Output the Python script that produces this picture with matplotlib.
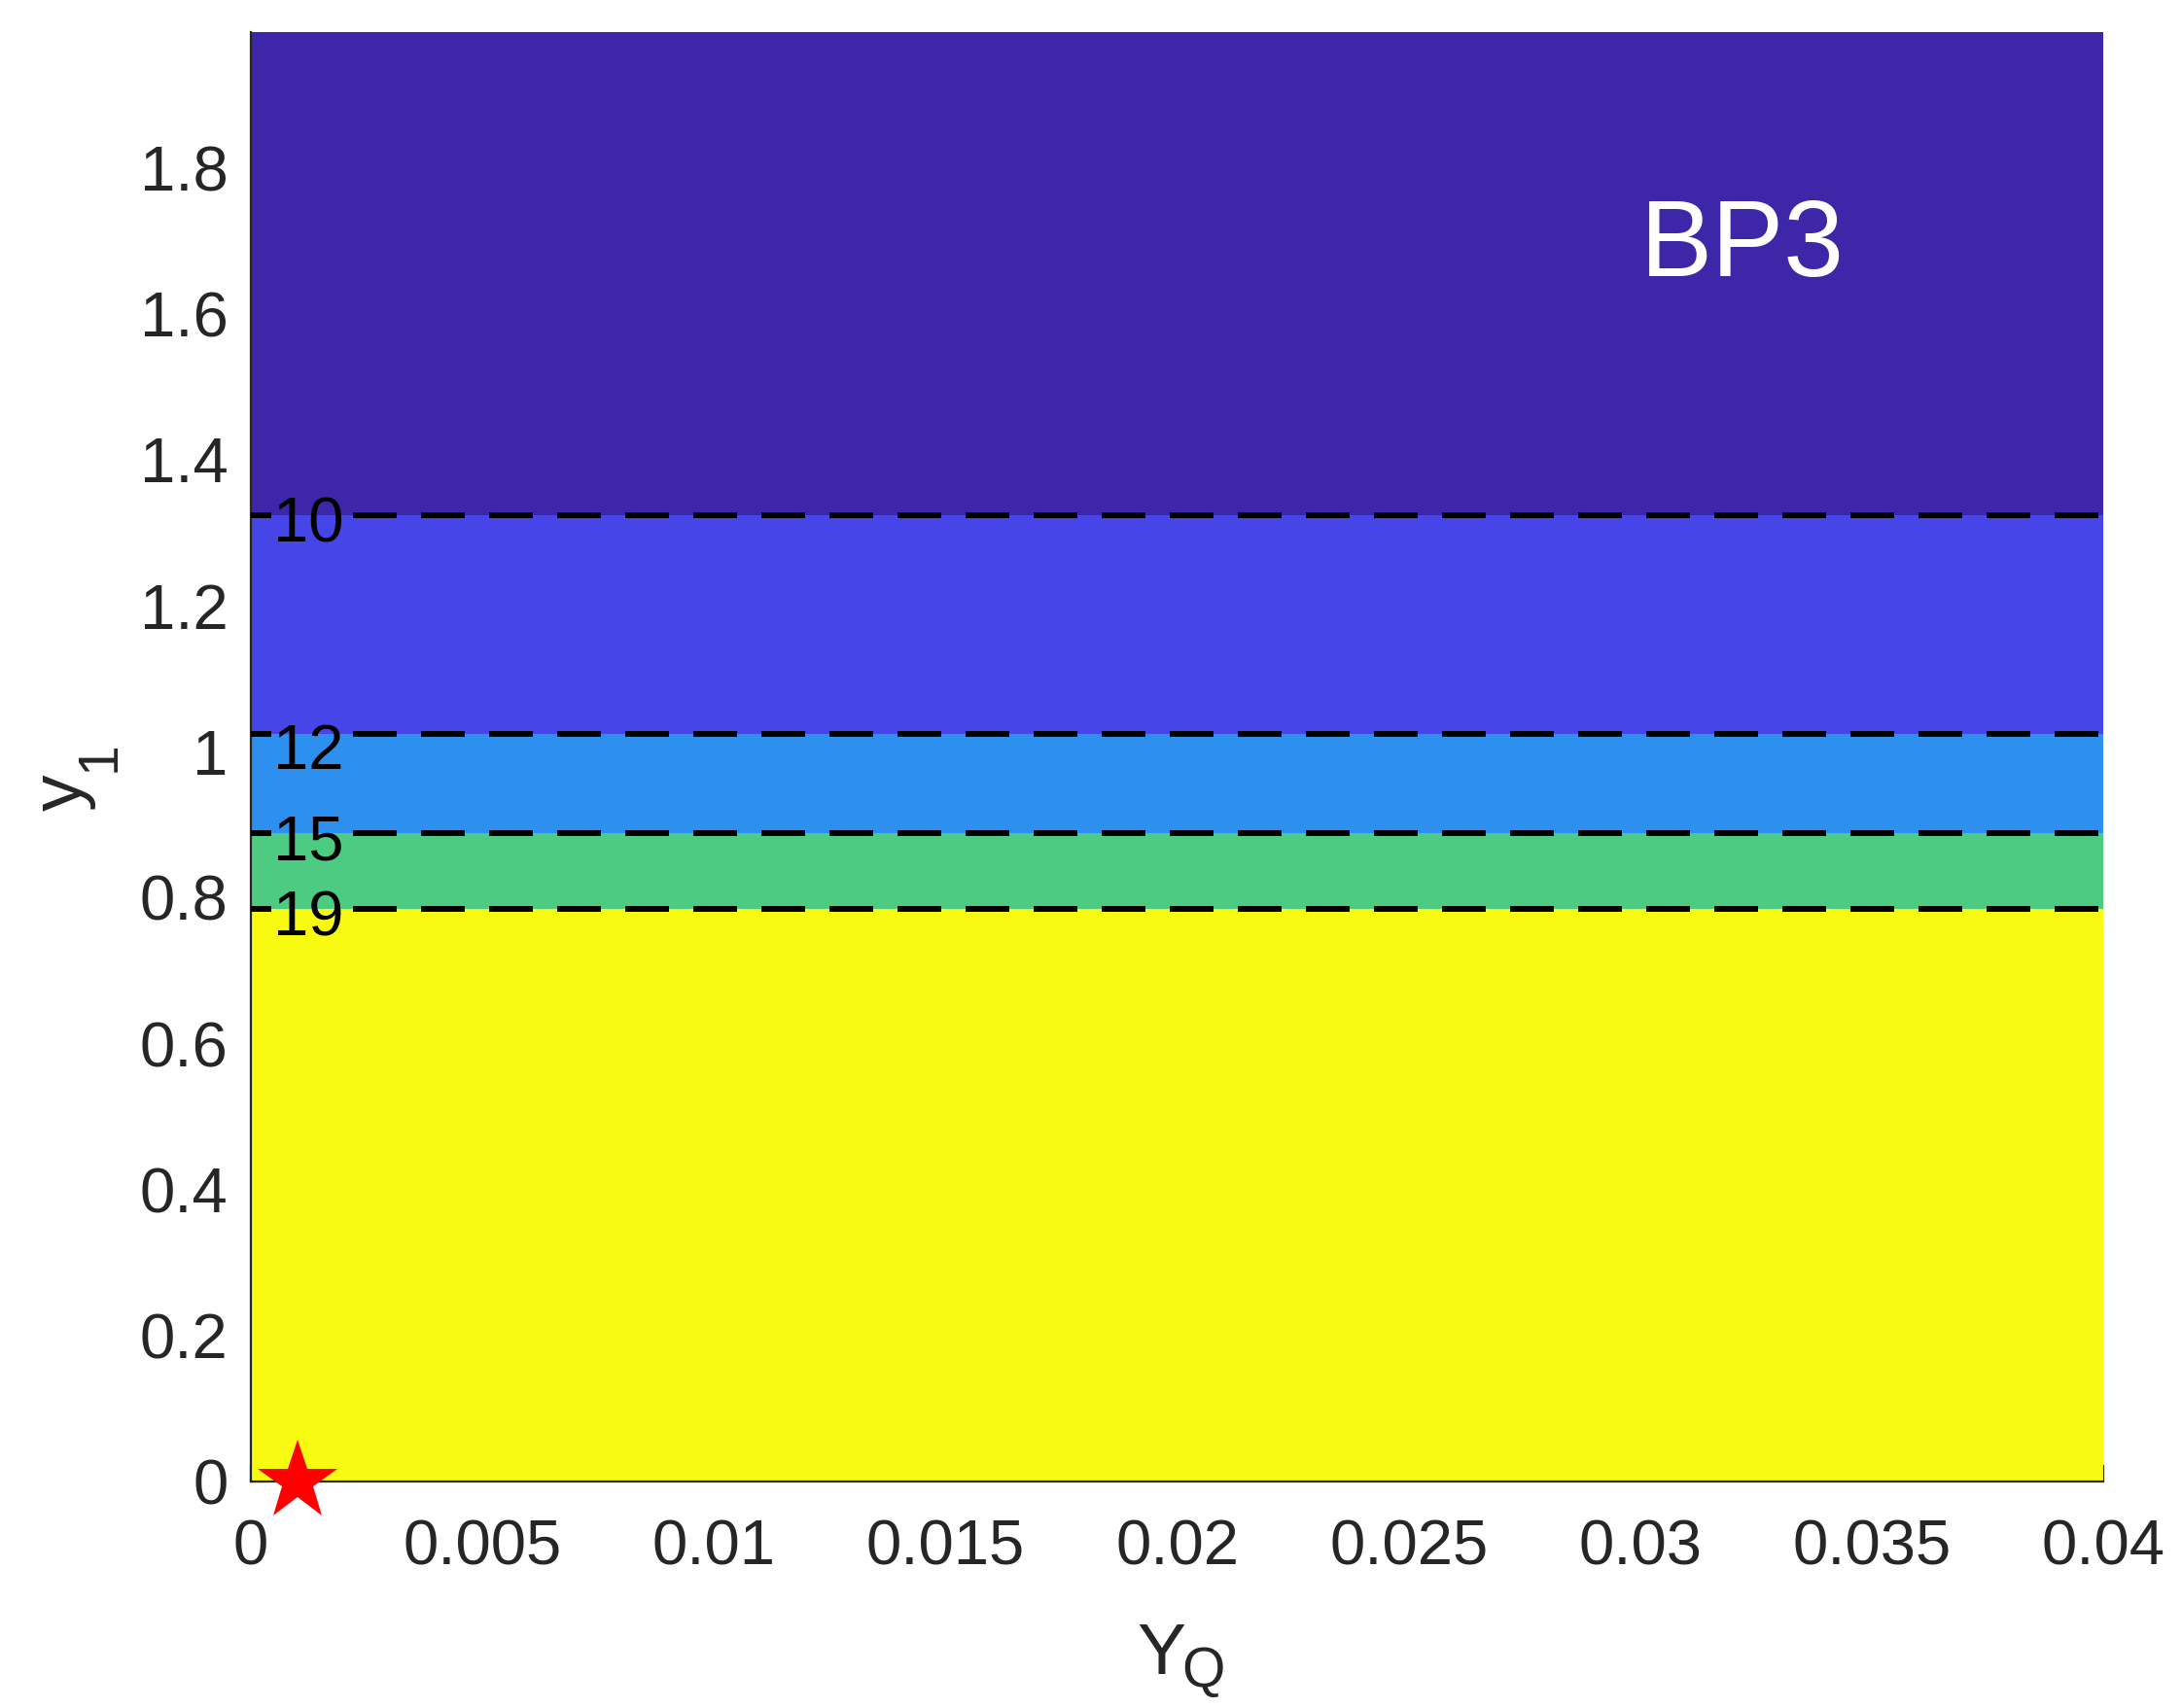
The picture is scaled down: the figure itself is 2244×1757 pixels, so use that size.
import matplotlib
matplotlib.use("Agg")
import matplotlib.pyplot as plt

# ---- data ----
x_range = [0.0, 0.04]
y_range = [0.0, 1.986]
contour_levels = [19, 15, 12, 10]
contour_y1 = [0.785, 0.889, 1.0245, 1.324]
band_colors = ['#f8fa12', '#4dcb82', '#2d8fee', '#4646e8', '#3d27a8']
star_x = [0.001]
star_y = [0.0]
xticks = [0, 0.005, 0.01, 0.015, 0.02, 0.025, 0.03, 0.035, 0.04]
xticklabels = ['0', '0.005', '0.01', '0.015', '0.02', '0.025', '0.03', '0.035', '0.04']
yticks = [0, 0.2, 0.4, 0.6, 0.8, 1.0, 1.2, 1.4, 1.6, 1.8]
yticklabels = ['0', '0.2', '0.4', '0.6', '0.8', '1', '1.2', '1.4', '1.6', '1.8']

# label placement (style)
label_x = 0.00124
label_dy_pt = [-3.8, -3.9, -7.0, -3.6]
gap = [0.00044, 0.0022]

plt.rcParams['font.family'] = ['Liberation Sans', 'DejaVu Sans']
plt.rcParams['mathtext.default'] = 'regular'
plt.rcParams['lines.scale_dashes'] = False

TXT = '#262626'

fig = plt.figure(figsize=(11.22, 8.785), dpi=200)
ax = fig.add_axes([0.115, 0.1326, 0.849, 0.8486])
ax.set_xlim(*x_range)
ax.set_ylim(*y_range)

bounds = [y_range[0]] + contour_y1 + [y_range[1]]
for i, c in enumerate(band_colors):
    ax.fill_between(x_range, [bounds[i]] * 2, [bounds[i + 1]] * 2,
                    color=c, linewidth=0, zorder=1)

for lev, yv, dy in zip(contour_levels, contour_y1, label_dy_pt):
    ax.plot([x_range[0], gap[0]], [yv, yv], color='black', lw=2.16,
            dashes=(16.2, 9.0), zorder=3)
    ax.plot([gap[1], x_range[1]], [yv, yv], color='black', lw=2.16,
            dashes=(16.2, 9.0), zorder=3)
    ax.annotate(str(lev), (label_x, yv), xytext=(0, dy),
                textcoords='offset points', fontsize=23.5, color='black',
                ha='center', va='center', zorder=4)

ax.annotate('BP3', (0.0322, 1.705), xytext=(0, -4.1),
            textcoords='offset points', fontsize=40, color='white',
            ha='center', va='center', zorder=4)

ax.plot(star_x, star_y, marker='*', ms=31, color='red', mec='red',
        mew=0, linestyle='none', clip_on=False, zorder=6)

ax.set_axisbelow(True)
ax.set_xticks(xticks)
ax.set_xticklabels(xticklabels)
ax.set_yticks(yticks)
ax.set_yticklabels(yticklabels)
ax.tick_params(direction='in', length=6, width=0.8, colors=TXT,
               labelsize=23.5, labelcolor=TXT)
ax.tick_params(axis='x', pad=14)
ax.tick_params(axis='y', pad=8.5)
for s in ['top', 'right']:
    ax.spines[s].set_visible(False)
for s in ['left', 'bottom']:
    ax.spines[s].set_color(TXT)
    ax.spines[s].set_linewidth(0.8)

# axis labels (MATLAB-style subscripts)
ax.text(0.4782, -0.1328, 'Y', transform=ax.transAxes, fontsize=27,
        color=TXT, ha='left', va='baseline')
ax.text(0.5024, -0.1415, 'Q', transform=ax.transAxes, fontsize=20.5,
        color=TXT, ha='left', va='baseline')
ax.text(-0.0913, 0.4628, 'y', transform=ax.transAxes, fontsize=27,
        color=TXT, ha='left', va='baseline', rotation=90,
        rotation_mode='anchor')
ax.text(-0.0735, 0.4896, '1', transform=ax.transAxes, fontsize=20.5,
        color=TXT, ha='left', va='baseline', rotation=90,
        rotation_mode='anchor')

fig.savefig('out.png', dpi=200)
